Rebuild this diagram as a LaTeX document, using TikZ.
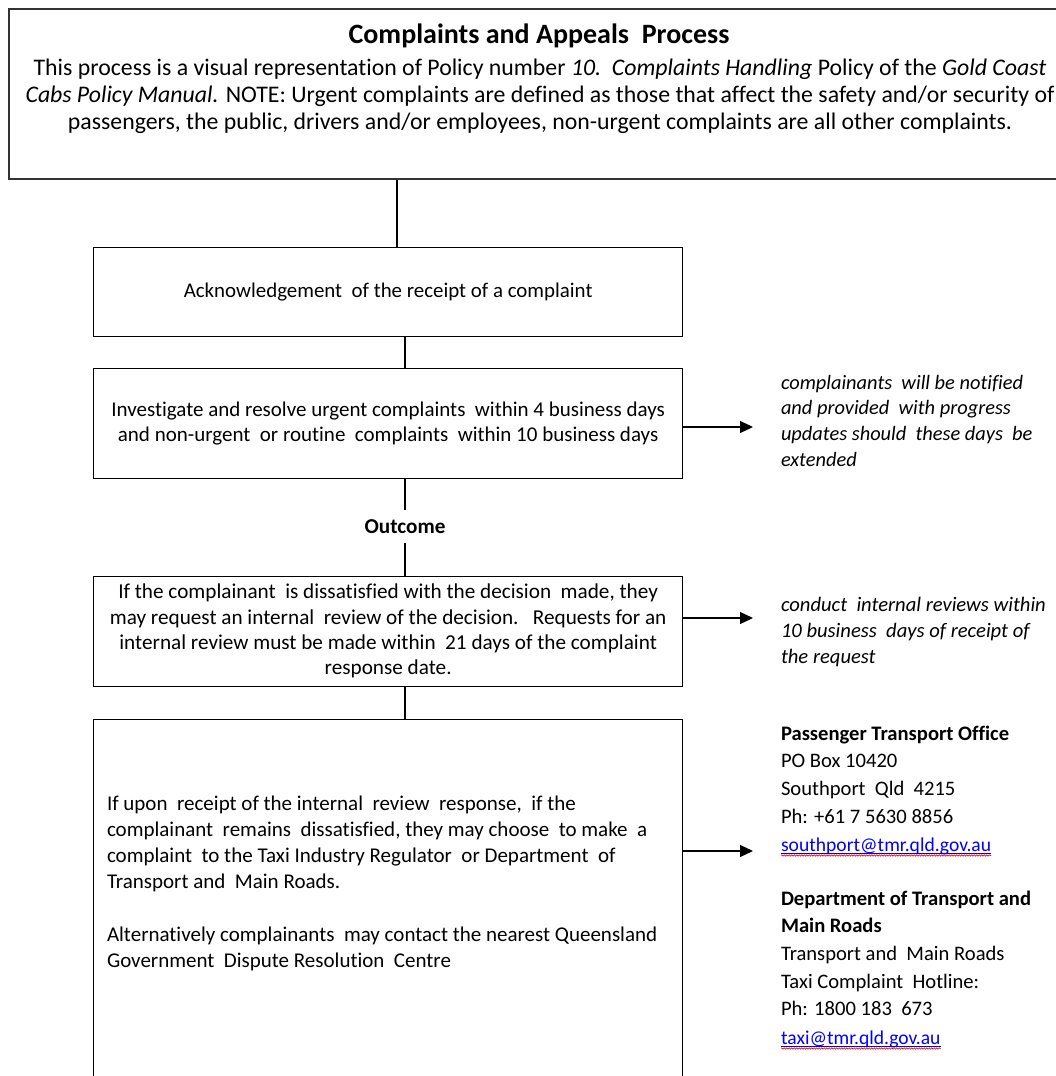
\documentclass[tikz,border=0pt]{standalone}
\usepackage{fontspec}
\setmainfont{Carlito}[Ligatures=NoCommon]
\usetikzlibrary{arrows.meta,decorations.pathmorphing}
\newcommand\mylines[2]{\begin{tabular}[t]{@{}#1@{}}#2\end{tabular}}
\begin{document}
\begin{tikzpicture}[x=1pt,y=-1pt,
  box/.style={draw=black, line width=1.3pt, minimum width=589pt, anchor=north west, inner sep=0pt},
  conn/.style={line width=1.2pt},
  arr/.style={line width=1.2pt, -{Triangle[length=13pt,width=12pt]}},
  txt/.style={inner sep=0pt, outer sep=0pt},
  link/.style={txt, anchor=base west, text=blue, font=\fontsize{19.6}{27.7}\selectfont},
  uline/.style={blue, line width=0.7pt},
  squig/.style={red, line width=0.6pt, decorate, decoration={snake, amplitude=0.7pt, segment length=2.5pt}},
]
\useasboundingbox (0,0) rectangle (1056,1076);
\clip (0,0) rectangle (1056,1076);

% top box
\node[draw=black!80, line width=2pt, minimum width=1064pt, minimum height=170pt, anchor=north west, inner sep=0pt] (topbox) at (8,8) {};
\node[txt, anchor=base, font=\bfseries\fontsize{28}{30}\selectfont] (title) at (539,43) {Complaints and Appeals\ \ Process};
\node[txt, anchor=base, font=\fontsize{23.8}{27}\selectfont] (intro) at (540,75) {\mylines{c}{This process is a visual representation of Policy number \textit{10.\ \ Complaints Handling} Policy of the \textit{Gold Coast}\\ \textit{Cabs Policy Manual.} NOTE: Urgent complaints are defined as those that affect the safety and/or security of\\ passengers, the public, drivers and/or employees, non-urgent complaints are all other complaints.}};

% boxes
\node[box, minimum height=89pt, font=\fontsize{20.9}{25}\selectfont] (ack) at (93,247) {Acknowledgement\ \ of the receipt of a complaint};
\node[box, minimum height=110pt, font=\fontsize{21}{25}\selectfont] (inv) at (93,368) {\mylines{c}{Investigate and resolve urgent complaints\ \ within 4 business days\\ and non-urgent\ \ or routine\ \ complaints\ \ within 10 business days}};
\node[txt, font=\bfseries\fontsize{21.2}{22}\selectfont, minimum height=33pt] (out) at (405,526.5) {Outcome};
\node[box, minimum height=110pt, font=\fontsize{21.2}{25.3}\selectfont] (rev) at (93,576) {\mylines{c}{If the complainant\ \ is dissatisfied with the decision\ \ made, they\\ may request an internal\ \ review of the decision.\ \ \ Requests for an\\ internal review must be made within\ \ 21 days of the complaint\\ response date.}};
\node[box, minimum height=400pt] (ext) at (93,719) {};
\node[txt, anchor=base west, font=\fontsize{21}{26.2}\selectfont] (extt) at (107,810) {\mylines{l}{If upon\ \ receipt of the internal\ \ review\ \ response,\ \ if the\\ complainant\ \ remains\ \ dissatisfied, they may choose\ \ to make\ \ a\\ complaint\ \ to the Taxi Industry Regulator\ \ or Department\ \ of\\ Transport and\ \ Main Roads.\\[26.2pt] Alternatively complainants\ \ may contact the nearest Queensland\\ Government\ \ Dispute Resolution\ \ Centre}};

% side notes
\node[txt, anchor=base west, font=\itshape\fontsize{20.4}{25.7}\selectfont] (note1) at (781,389) {\mylines{l}{complainants\ \ will be notified\\ and provided\ \ with progress\\ updates should\ \ these days\ \ be\\ extended}};
\node[txt, anchor=base west, font=\itshape\fontsize{20.6}{26}\selectfont] (note2) at (781,611) {\mylines{l}{conduct\ \ internal reviews within\\ 10 business\ \ days of receipt of\\ the request}};
\node[txt, anchor=base west, font=\fontsize{20.6}{27.7}\selectfont] (pto) at (781,740) {\mylines{l}{\textbf{Passenger Transport Office}\\ PO Box 10420\\ Southport\ \ Qld\ \ 4215\\ Ph: +61 7 5630 8856}};
\node[link] (mail1) at (781,851) {southport@tmr.qld.gov.au};
\node[txt, anchor=base west, font=\fontsize{20.6}{27.7}\selectfont] (dtmr) at (781,905) {\mylines{l}{\textbf{Department of Transport and}\\ \textbf{Main Roads}\\ Transport and\ \ Main Roads\\ Taxi Complaint\ \ Hotline:\\ Ph: 1800 183\ \ 673}};
\node[link] (mail2) at (781,1044) {taxi@tmr.qld.gov.au};
\draw[uline] ([yshift=-2.5pt]mail1.base west) -- ([yshift=-2.5pt]mail1.base east);
\draw[squig] ([yshift=-4.5pt]mail1.base west) -- ([yshift=-4.5pt]mail1.base east);
\draw[uline] ([yshift=-2.5pt]mail2.base west) -- ([yshift=-2.5pt]mail2.base east);
\draw[squig] ([yshift=-4.5pt]mail2.base west) -- ([yshift=-4.5pt]mail2.base east);

% connectors
\coordinate (xa) at (397,0);
\coordinate (xb) at (405,0);
\draw[conn] (xa |- topbox.south) -- (xa |- ack.north);
\draw[conn] (xb |- ack.south) -- (xb |- inv.north);
\draw[conn] (xb |- inv.south) -- (out.north);
\draw[conn] (out.south) -- (xb |- rev.north);
\draw[conn] (xb |- rev.south) -- (xb |- ext.north);
\coordinate (a1) at (753,427);
\coordinate (a2) at (753,618);
\coordinate (a3) at (753,851);
\draw[arr] (a1 -| inv.east) -- (a1);
\draw[arr] (a2 -| rev.east) -- (a2);
\draw[arr] (a3 -| ext.east) -- (a3);
\end{tikzpicture}
\end{document}
